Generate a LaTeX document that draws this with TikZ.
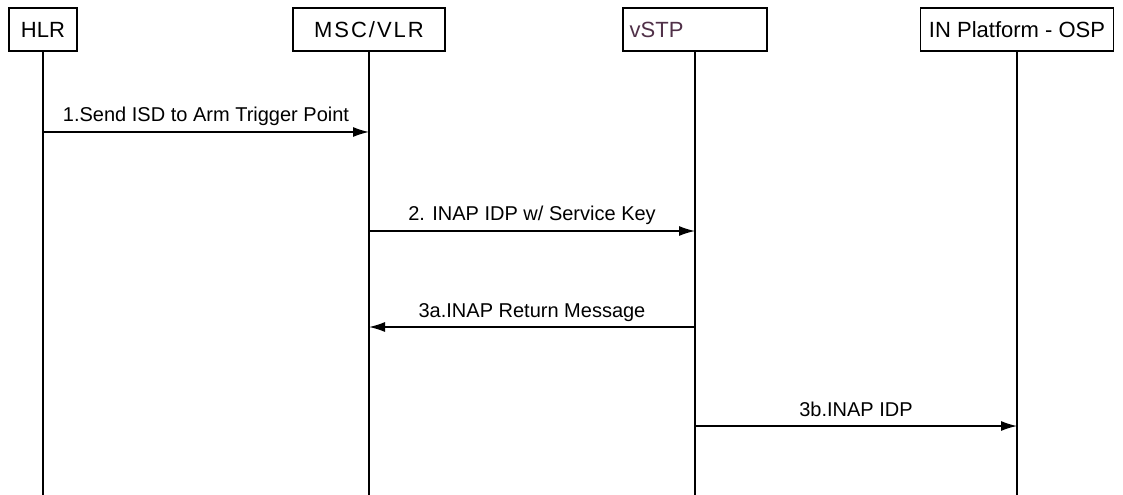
\documentclass[tikz,border=0pt]{standalone}
\usepackage{fontspec}
\setmainfont{Liberation Sans}
\newfontfamily\widefont[LetterSpace=9]{Liberation Sans}
\usetikzlibrary{arrows.meta}
\definecolor{stptext}{RGB}{80,48,72}
\tikzset{
	actor/.style={draw, line width=1pt, minimum height=32.25pt, inner sep=2pt, font=\fontsize{16.5}{18}\selectfont},
	life/.style={line width=1pt},
	msg/.style={line width=1pt, -{Latex[length=12pt,width=7.5pt]}},
	msglabel/.style={midway, anchor=base, yshift=7.5pt, inner sep=0pt, font=\fontsize{15}{17}\selectfont}
}
\begin{document}
\begin{tikzpicture}[x=0.75pt,y=-0.75pt]
		\useasboundingbox (0,0) rectangle (1123,495);
		% actors
		\node[actor, minimum width=51pt] (hlr) at (43,29.5) {HLR};
		\node[actor, minimum width=114pt] (msc) at (369,29.5) {\widefont MSC/VLR};
		\node[actor, inner xsep=5pt, text width=98pt, align=left, text=stptext] (vstp) at (695,29.5) {vSTP};
		\node[actor, minimum width=144.75pt] (inp) at (1017,29.5) {IN Platform - OSP};
		
		% lifelines
		\foreach \a in {hlr,msc,vstp,inp} {
			\coordinate (\a end) at (\a |- 0,495);
			\draw[life] (\a.south) -- (\a end);
		}
		
		% messages
		\coordinate (m1a) at (hlr |- 0,132); \coordinate (m1b) at (msc |- 0,132);
		\draw[msg] (m1a) -- (m1b) node[msglabel] {1.Send ISD to Arm Trigger Point};
		
		\coordinate (m2a) at (msc |- 0,231); \coordinate (m2b) at (vstp |- 0,231);
		\draw[msg] (m2a) -- (m2b) node[msglabel] {2. INAP IDP w/ Service Key};
		
		\coordinate (m3a) at (vstp |- 0,327); \coordinate (m3b) at (msc |- 0,327);
		\draw[msg] (m3a) -- (m3b) node[msglabel] {3a.INAP Return Message};
		
		\coordinate (m4a) at (vstp |- 0,426); \coordinate (m4b) at (inp |- 0,426);
		\draw[msg] (m4a) -- (m4b) node[msglabel] {3b.INAP IDP};
\end{tikzpicture}
\end{document}
